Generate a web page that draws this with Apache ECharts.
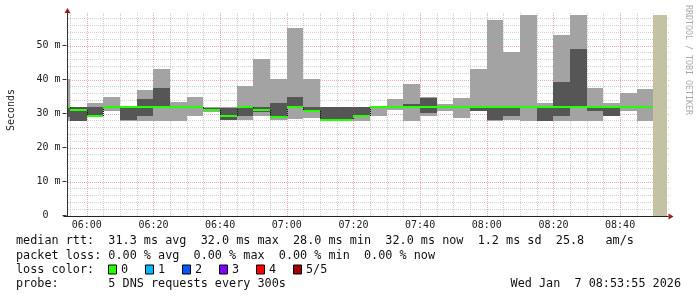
<!DOCTYPE html>
<html><head><meta charset="utf-8">
<script src="https://cdn.jsdelivr.net/npm/echarts@6/dist/echarts.min.js"></script>
<style>html,body{margin:0;padding:0;background:#fff}#c{width:697px;height:297px}</style>
</head><body><div id="c"></div>
<script>
// ---- data ----
const binTimes = ['05:50','05:55','06:00','06:05','06:10','06:15','06:20','06:25','06:30','06:35','06:40','06:45','06:50','06:55',
  '07:00','07:05','07:10','07:15','07:20','07:25','07:30','07:35','07:40','07:45','07:50','07:55',
  '08:00','08:05','08:10','08:15','08:20','08:25','08:30','08:35','08:40','08:45'];
const pingMin = [27.8,27.8,29.0,30.8,27.8,27.8,27.8,27.8,29.3,30.6,28.0,28.0,29.3,28.2,28.5,28.8,27.8,27.8,27.8,29.3,31.0,27.8,29.2,30.8,28.8,30.7,27.8,28.0,27.8,27.8,27.8,27.8,27.8,29.3,30.8,27.8];
const pingLow = [29.0,27.9,29.2,31.6,28.0,29.3,31.5,31.6,31.6,30.8,28.2,29.3,30.6,28.8,31.5,30.6,28.0,28.0,29.0,31.6,31.6,31.6,30.2,31.6,31.6,30.8,28.0,29.2,31.5,27.9,29.3,31.5,30.8,29.4,31.5,31.5];
const medianRtt = [31.9,30.9,29.2,31.9,31.9,31.9,31.9,31.9,31.9,31.0,29.2,31.9,30.9,29.0,31.9,30.8,28.0,28.0,29.2,31.9,31.9,31.9,31.9,31.9,31.9,31.9,31.9,31.9,31.9,31.9,31.9,31.9,31.9,31.9,31.9,31.9];
const pingHigh = [32.2,31.8,31.9,32.2,32.0,34.4,37.5,32.2,32.2,31.7,31.7,32.2,31.9,33.1,34.9,31.8,31.8,31.8,31.8,32.0,32.2,32.9,34.7,32.2,32.2,32.2,32.2,32.2,32.2,32.2,39.3,48.9,32.2,32.2,32.2,32.2];
const pingMax = [40.3,31.9,33.1,34.9,32.1,36.9,43.0,33.4,34.9,31.8,31.8,38.1,46.0,40.1,55.3,40.3,31.9,31.9,31.9,32.1,34.4,38.6,34.8,32.9,34.7,43.0,57.4,48.1,59.0,33.2,53.0,59.0,37.4,33.0,36.1,37.1];
const unknownStart = ['08:50'];
const xTickLabels = ['06:00','06:20','06:40','07:00','07:20','07:40','08:00','08:20','08:40'];
const yTickValues = [0,10,20,30,40,50];
const lossLabels = ['0','1','2','3','4','5/5'];
const lossColors = ['#26ff00','#00b8ff','#0059ff','#7e00ff','#ff0000','#a10000'];
const legendLines = [
  'median rtt:  31.3 ms avg  32.0 ms max  28.0 ms min  32.0 ms now  1.2 ms sd  25.8   am/s',
  'packet loss: 0.00 % avg  0.00 % max  0.00 % min  0.00 % now',
  'loss color:',
  'probe:       5 DNS requests every 300s'
];
const stampText = 'Wed Jan  7 08:53:55 2026';
const binSize = 5;

// ---- helpers ----
const toMin = t => { const [h,m,s] = t.split(':').map(Number); return (h-6)*60 + m + (s||0)/60; };
const fromMin = v => { const t = Math.round(v) + 360; return String(Math.floor(t/60)).padStart(2,'0') + ':' + String(t%60).padStart(2,'0'); };
const xMin = toMin('05:53:55'), xMax = toMin('08:53:55');
const yMax = 59;
const MONO = '"DejaVu Sans Mono", monospace';
const LEGEND_FONT = '11.8px ' + MONO;

const smokeData = binTimes.map((t,i) => [toMin(t), pingMin[i], pingLow[i], medianRtt[i], pingHigh[i], pingMax[i], i > 0 ? medianRtt[i-1] : medianRtt[i]]);
const gridV = []; for (let m = -5; m <= 170; m += 5) gridV.push([0, m]);
const gridH = []; for (let v = 2; v <= 58; v += 2) gridH.push([1, v]);

const chart = echarts.init(document.getElementById('c'), null, {renderer:'canvas'});

function gridItem(params, api) {
  const kind = api.value(0), v = api.value(1);
  let a, b, major;
  if (kind === 0) {
    a = api.coord([v, 0]); b = api.coord([v, yMax]); major = (Math.round(v) % 20 === 0);
    const x = Math.round(a[0]) + 0.5; a = [x, Math.round(a[1])]; b = [x, Math.round(b[1]) - 2];
  } else {
    a = api.coord([xMin, v]); b = api.coord([xMax, v]); major = (Math.round(v) % 10 === 0);
    const y = Math.round(a[1]) + 0.5; a = [Math.round(a[0]) + 1, y]; b = [Math.round(b[0]) + 2, y];
  }
  return { type:'line', shape:{x1:a[0], y1:a[1], x2:b[0], y2:b[1]},
    style:{ stroke: major ? 'rgba(225,115,115,0.6)' : 'rgba(175,175,175,0.6)', lineWidth:1, lineDash:[1,1] } };
}

function smokeItem(params, api) {
  const s = Math.max(api.value(0), xMin), e = Math.min(api.value(0) + binSize, xMax);
  const px = v => Math.round(api.coord([v, 0])[0]);
  const py = v => Math.round(api.coord([xMin, v])[1]);
  const x0 = px(s), x1 = px(e);
  const rect = (lo, hi, fill) => ({ type:'rect', shape:{ x:x0, y:py(hi), width:x1-x0, height:py(lo)-py(hi) }, style:{ fill } });
  const med = api.value(3), prev = api.value(6);
  const children = [
    rect(api.value(1), api.value(5), '#a3a3a3'),
    rect(api.value(2), api.value(4), '#565656')
  ];
  if (Math.abs(med - prev) > 0.05 && api.value(0) > xMin) {
    children.push({ type:'line', shape:{ x1:x0+0.5, y1:py(Math.max(med, prev)), x2:x0+0.5, y2:py(Math.min(med, prev)) },
      style:{ stroke:'#111', lineWidth:1, lineDash:[1,1] } });
  }
  children.push({ type:'rect', shape:{ x:x0, y:py(med)-1, width:x1-x0, height:2 }, style:{ fill:'#26ff00' } });
  return { type:'group', children };
}

function unknownItem(params, api) {
  const a = api.coord([api.value(0), yMax]), b = api.coord([xMax, 0]);
  return { type:'rect', shape:{ x:Math.round(a[0]), y:Math.round(a[1]), width:Math.round(b[0])-Math.round(a[0]), height:Math.round(b[1])-Math.round(a[1]) }, style:{ fill:'#c5c1a3' } };
}

const option = {
  animation:false,
  backgroundColor:'#ffffff',
  grid:{ left:66.5, top:15, width:600, height:200.5, containLabel:false },
  xAxis:{ type:'value', min:xMin, max:xMax,
    axisLine:{ show:false },
    axisTick:{ show:false, customValues: xTickLabels.map(toMin) },
    axisLabel:{ customValues: xTickLabels.map(toMin), formatter: v => fromMin(v), color:'#222', fontFamily:MONO, fontSize:10, margin:5 },
    splitLine:{ show:false } },
  yAxis:{ type:'value', min:0, max:yMax,
    axisLine:{ show:false, onZero:false },
    axisTick:{ show:true, length:4, customValues: yTickValues, lineStyle:{ color:'#333' } },
    axisLabel:{ customValues: yTickValues, formatter: v => v === 0 ? '0  ' : (v + ' m'), color:'#222', fontFamily:MONO, fontSize:10, margin:6 },
    splitLine:{ show:false } },
  series:[
    { type:'custom', name:'grid', data:gridV.concat(gridH), renderItem:gridItem, z:1, silent:true },
    { type:'custom', name:'smoke', data:smokeData, renderItem:smokeItem, z:2, silent:true },
    { type:'custom', name:'unknown', data:unknownStart.map(t => [toMin(t)]), renderItem:unknownItem, z:3, silent:true }
  ]
};
chart.setOption(option);

// decorations: axis lines with arrows, texts, legend
const o = chart.convertToPixel({gridIndex:0}, [xMin, 0]);
const yTop = chart.convertToPixel({gridIndex:0}, [xMin, yMax]);
const xRight = chart.convertToPixel({gridIndex:0}, [xMax, 0]);
const ax = Math.round(o[0]) + 0.5, ay = Math.round(o[1]) + 0.5;
const graphics = [
  { type:'line', z:10, shape:{x1:ax, y1:ay, x2:ax, y2:yTop[1]-3}, style:{stroke:'#333', lineWidth:1} },
  { type:'polygon', z:10, shape:{points:[[ax, yTop[1]-7], [ax-3, yTop[1]-2], [ax+3, yTop[1]-2]]}, style:{fill:'#9b1c1c'} },
  { type:'line', z:10, shape:{x1:ax-4, y1:ay, x2:xRight[0]+2, y2:ay}, style:{stroke:'#222', lineWidth:1} },
  { type:'polygon', z:10, shape:{points:[[xRight[0]+7, ay], [xRight[0]+2, ay-3], [xRight[0]+2, ay+3]]}, style:{fill:'#9b1c1c'} },
  { type:'text', x:11, y:110, rotation:Math.PI/2, style:{ text:'Seconds', fill:'#222', font:'10px ' + MONO, align:'center', verticalAlign:'middle' } },
  { type:'text', x:688, y:5, rotation:-Math.PI/2, style:{ text:'RRDTOOL / TOBI OETIKER', fill:'#aaa', font:'8.3px ' + MONO, align:'left', verticalAlign:'middle' } }
];
const rowY = [241, 255.5, 269.5, 284];
legendLines.forEach((t, i) => graphics.push({ type:'text', x:16, y:rowY[i], style:{ text:t, fill:'#111', font:LEGEND_FONT, align:'left', verticalAlign:'middle' } }));
graphics.push({ type:'text', x:681, y:rowY[3], style:{ text:stampText, fill:'#111', font:LEGEND_FONT, align:'right', verticalAlign:'middle' } });
lossLabels.forEach((l, i) => {
  const bx = 108 + i*37;
  graphics.push({ type:'rect', shape:{x:bx+0.5, y:rowY[2]-4.5, width:8, height:9}, style:{fill:lossColors[i], stroke:'#000', lineWidth:1} });
  graphics.push({ type:'text', x:bx+13, y:rowY[2], style:{ text:l, fill:'#111', font:LEGEND_FONT, align:'left', verticalAlign:'middle' } });
});
chart.setOption({ graphic: graphics });
</script></body></html>
